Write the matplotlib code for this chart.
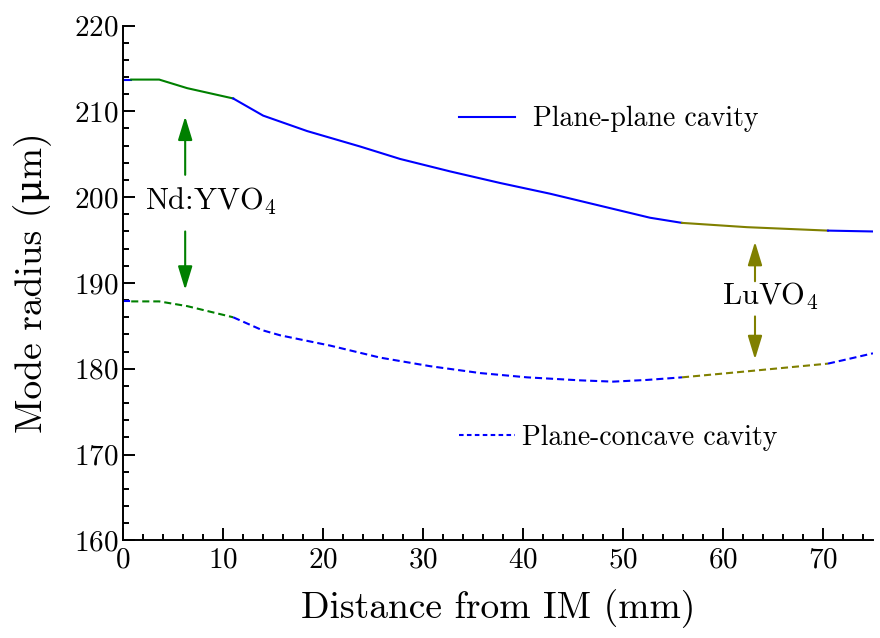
import numpy as np
from matplotlib import pyplot as plt
from matplotlib.lines import Line2D

plt.rcParams['font.family'] = ['cmr10', 'DejaVu Serif']
plt.rcParams['mathtext.fontset'] = 'cm'
plt.rcParams['axes.formatter.use_mathtext'] = True

# plane-plane cavity: distance from IM (mm) / mode radius (um)
z_pp = np.array([0, 0.8, 3.6, 6.4, 11.0, 14.0, 18.4, 23.7, 27.7, 32.7,
                 37.7, 42.7, 47.7, 52.7, 55.9, 62.4, 70.5, 75.0])
w_pp = np.array([213.7, 213.7, 213.7, 212.7, 211.5, 209.5, 207.7, 205.9,
                 204.45, 203.0, 201.65, 200.4, 199.0, 197.6, 197.0, 196.5,
                 196.1, 196.0])

# plane-concave cavity
z_pc = np.array([0, 0.8, 3.6, 6.4, 11.0, 13.9, 15.7, 20.7, 25.7, 30.7,
                 35.7, 40.4, 45.7, 49.0, 52.4, 55.9, 62.4, 70.5, 72.4, 75.0])
w_pc = np.array([187.85, 187.85, 187.85, 187.3, 186.0, 184.5, 183.9, 182.7,
                 181.3, 180.3, 179.5, 179.0, 178.65, 178.5, 178.7, 179.0,
                 179.7, 180.6, 181.1, 181.8])

# crystal positions (mm)
ndyvo4 = (0.8, 11.0)
luvo4 = (55.9, 70.5)

BLUE = '#0000ff'
GREEN = '#008000'
OLIVE = '#808000'

fig = plt.figure(figsize=(8.8, 6.38), dpi=100)
ax = fig.add_axes([0.14, 0.153, 0.852, 0.807])

dash = (0, (3.4, 1.9))


def draw_curve(z, w, ls):
    # split into air / crystal pieces so each piece gets its own colour
    bounds = [0, ndyvo4[0], ndyvo4[1], luvo4[0], luvo4[1], z[-1]]
    cols = [BLUE, GREEN, BLUE, OLIVE, BLUE]
    for i, c in enumerate(cols):
        m = (z >= bounds[i]) & (z <= bounds[i + 1])
        ax.plot(z[m], w[m], color=c, lw=1.5, linestyle=ls)


draw_curve(z_pp, w_pp, '-')
draw_curve(z_pc, w_pc, dash)


def arrow(x, y0, y1, c):
    ax.annotate('', xy=(x, y1), xytext=(x, y0),
                arrowprops=dict(arrowstyle='-|>,head_length=0.72,head_width=0.22',
                                color=c, lw=1.5, mutation_scale=20,
                                shrinkA=0, shrinkB=0))


arrow(6.2, 202.6, 209.4, GREEN)
arrow(6.2, 196.0, 189.2, GREEN)
arrow(63.2, 190.2, 194.8, OLIVE)
arrow(63.2, 186.1, 181.1, OLIVE)
ax.text(2.2, 198.5, r'Nd:YVO$_4$', fontsize=22, va='baseline', ha='left')
ax.text(59.9, 187.5, r'LuVO$_4$', fontsize=22, va='baseline', ha='left')

h1 = Line2D([], [], color=BLUE, lw=1.5)
h2 = Line2D([], [], color=BLUE, lw=1.5, linestyle=(0, (2.2, 1.6)))
leg1 = ax.legend([h1], ['Plane-plane cavity'], loc='center left',
                 bbox_to_anchor=(0.448, 0.818), frameon=False, fontsize=20,
                 borderpad=0, borderaxespad=0, handlelength=2.0,
                 handletextpad=0.65)
ax.add_artist(leg1)
ax.legend([h2], ['Plane-concave cavity'], loc='center left',
          bbox_to_anchor=(0.448, 0.199), frameon=False, fontsize=20,
          borderpad=0, borderaxespad=0, handlelength=2.0,
          handletextpad=0.28)

ax.set_xlim(0, 75)
ax.set_ylim(160, 220)
ax.set_xticks(np.arange(0, 71, 10))
ax.set_xticks(np.arange(0, 75, 2), minor=True)
ax.set_yticks(np.arange(160, 221, 10))
ax.set_yticks(np.arange(160, 221, 2), minor=True)
ax.tick_params(which='both', direction='in', width=1.4, labelsize=21)
ax.tick_params(which='major', length=8.5)
ax.tick_params(which='minor', length=4.3)
ax.tick_params(axis='x', pad=5)
ax.tick_params(axis='y', pad=3)
for s in ('top', 'right'):
    ax.spines[s].set_visible(False)
for s in ('left', 'bottom'):
    ax.spines[s].set_linewidth(1.4)

ax.set_xlabel('Distance from IM (mm)', fontsize=27, labelpad=11)
ax.set_ylabel('Mode radius (μm)', fontsize=27, labelpad=16)

fig.savefig('out.png', dpi=100)
